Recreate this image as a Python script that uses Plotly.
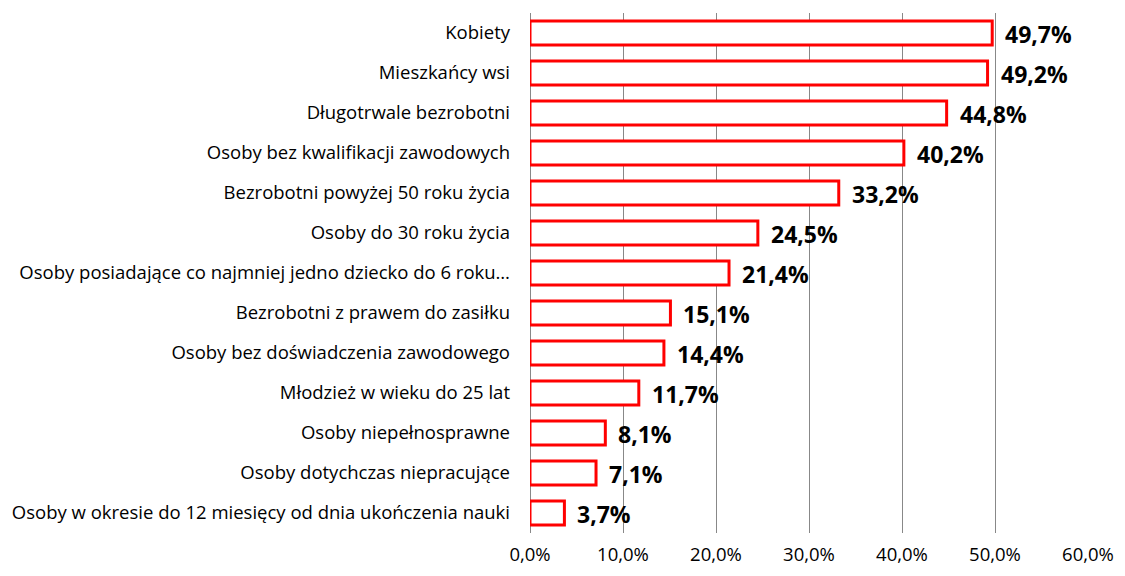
import plotly.graph_objects as go

categories = [
    "Kobiety",
    "Mieszkańcy wsi",
    "Długotrwale bezrobotni",
    "Osoby bez kwalifikacji zawodowych",
    "Bezrobotni powyżej 50 roku życia",
    "Osoby do 30 roku życia",
    "Osoby posiadające co najmniej jedno dziecko do 6 roku…",
    "Bezrobotni z prawem do zasiłku",
    "Osoby bez doświadczenia zawodowego",
    "Młodzież w wieku do 25 lat",
    "Osoby niepełnosprawne",
    "Osoby dotychczas niepracujące",
    "Osoby w okresie do 12 miesięcy od dnia ukończenia nauki",
]
values = [49.7, 49.2, 44.8, 40.2, 33.2, 24.5, 21.4, 15.1, 14.4, 11.7, 8.1, 7.1, 3.7]
value_labels = ["49,7%", "49,2%", "44,8%", "40,2%", "33,2%", "24,5%", "21,4%",
                "15,1%", "14,4%", "11,7%", "8,1%", "7,1%", "3,7%"]
tick_vals = [0, 10, 20, 30, 40, 50, 60]
tick_text = ["0,0%", "10,0%", "20,0%", "30,0%", "40,0%", "50,0%", "60,0%"]

FONT = "Open Sans, Liberation Sans, sans-serif"

fig = go.Figure()
fig.add_trace(go.Bar(
    x=values,
    y=categories,
    orientation="h",
    marker=dict(color="white", line=dict(color="#FF0000", width=3)),
    hoverinfo="skip",
))

for v, c, t in zip(values, categories, value_labels):
    fig.add_annotation(x=v, y=c, text="<b>" + t + "</b>", showarrow=False,
                       xanchor="left", xshift=11, yshift=-1,
                       font=dict(family=FONT, size=23, color="black"))

fig.update_layout(
    width=1125, height=576,
    margin=dict(l=522, r=45, t=5, b=51, autoexpand=False),
    paper_bgcolor="white", plot_bgcolor="white",
    bargap=0.4,
    showlegend=False,
    font=dict(family=FONT, size=18, color="black"),
)
fig.update_xaxes(range=[0, 60], tickvals=tick_vals, ticktext=tick_text,
                 showgrid=True, gridcolor="#888888", gridwidth=1,
                 zeroline=True, zerolinecolor="#888888", zerolinewidth=1,
                 showline=False, ticks="", ticklabelstandoff=8,
                 automargin=False,
                 tickfont=dict(family=FONT, size=18.5))
fig.update_yaxes(autorange="reversed", showgrid=False, ticks="",
                 ticklabelstandoff=19, automargin=False,
                 tickfont=dict(family=FONT, size=18.5))

fig.write_html("out.html")
